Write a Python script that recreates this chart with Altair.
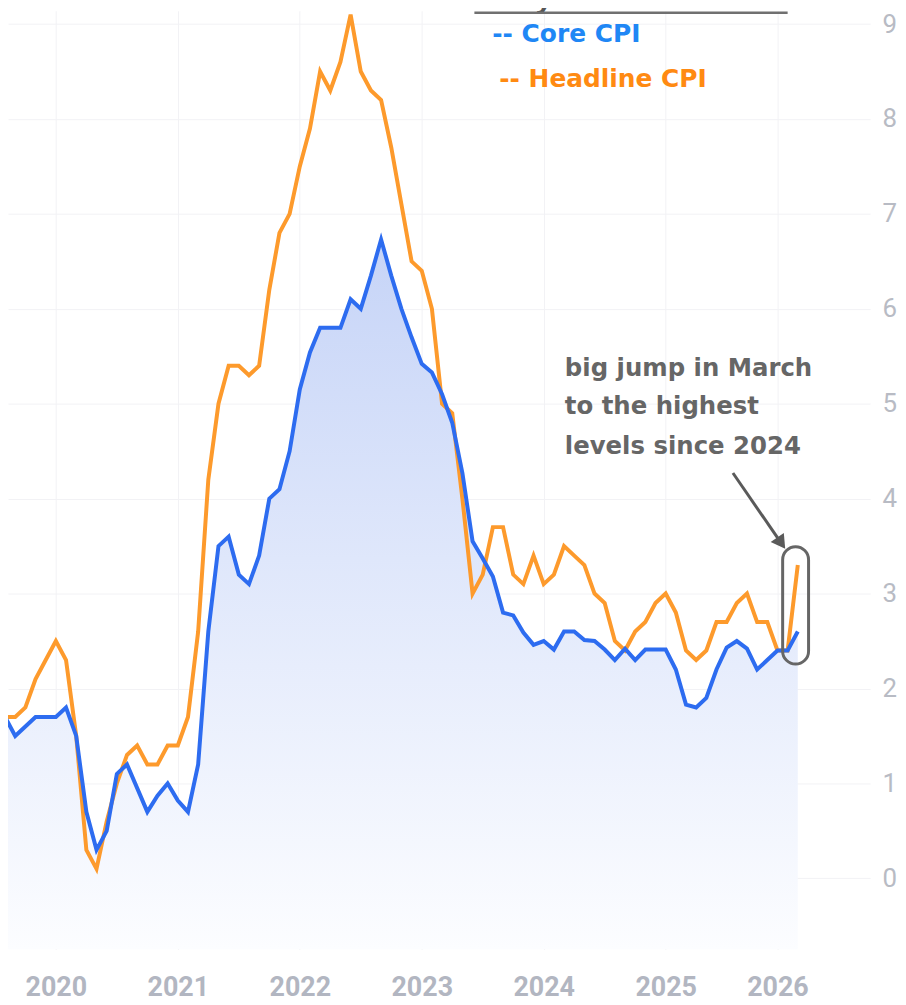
import altair as alt
import pandas as pd

# ---------------- data (monthly, Aug 2019 .. Mar 2026; Oct 2025 not published) ----------------
months = (
    ["2019-08", "2019-09", "2019-10", "2019-11", "2019-12"]
    + [f"2020-{m:02d}" for m in range(1, 13)]
    + [f"2021-{m:02d}" for m in range(1, 13)]
    + [f"2022-{m:02d}" for m in range(1, 13)]
    + [f"2023-{m:02d}" for m in range(1, 13)]
    + [f"2024-{m:02d}" for m in range(1, 13)]
    + ["2025-01", "2025-02", "2025-03", "2025-04", "2025-05", "2025-06",
       "2025-07", "2025-08", "2025-09", "2025-11", "2025-12"]
    + ["2026-01", "2026-02", "2026-03"]
)

headline = [
    1.7, 1.7, 1.8, 2.1, 2.3,
    2.5, 2.3, 1.5, 0.3, 0.1, 0.6, 1.0, 1.3, 1.4, 1.2, 1.2, 1.4,
    1.4, 1.7, 2.6, 4.2, 5.0, 5.4, 5.4, 5.3, 5.4, 6.2, 6.8, 7.0,
    7.5, 7.9, 8.5, 8.3, 8.6, 9.1, 8.5, 8.3, 8.2, 7.7, 7.1, 6.5,
    6.4, 6.0, 5.0, 4.9, 4.0, 3.0, 3.2, 3.7, 3.7, 3.2, 3.1, 3.4,
    3.1, 3.2, 3.5, 3.4, 3.3, 3.0, 2.9, 2.5, 2.4, 2.6, 2.7, 2.9,
    3.0, 2.8, 2.4, 2.3, 2.4, 2.7, 2.7, 2.9, 3.0, 2.7, 2.7,
    2.4, 2.4, 3.3,
]

core = [
    1.7, 1.5, 1.6, 1.7, 1.7,
    1.7, 1.8, 1.5, 0.7, 0.3, 0.5, 1.1, 1.2, 0.95, 0.7, 0.87, 1.0,
    0.82, 0.7, 1.2, 2.6, 3.5, 3.6, 3.2, 3.1, 3.4, 4.0, 4.1, 4.5,
    5.15, 5.54, 5.8, 5.8, 5.8, 6.1, 6.0, 6.35, 6.73, 6.35, 6.0, 5.7,
    5.42, 5.33, 5.1, 4.8, 4.27, 3.55, 3.37, 3.18, 2.8, 2.77, 2.59, 2.46,
    2.5, 2.41, 2.6, 2.6, 2.51, 2.5, 2.41, 2.3, 2.42, 2.3, 2.41, 2.41,
    2.41, 2.2, 1.83, 1.8, 1.9, 2.2, 2.43, 2.5, 2.42, 2.2, 2.3,
    2.4, 2.4, 2.6,
]

year_tick_idx = [5, 17, 29, 41, 53, 65, 76]
year_labels = ["2020", "2021", "2022", "2023", "2024", "2025", "2026"]
y_ticks = [0, 1, 2, 3, 4, 5, 6, 7, 8, 9]

legend_text = ["-- Core CPI", "-- Headline CPI"]
legend_colors = ["#1f87f5", "#ff8a12"]
legend_x = [47.94, 48.63]
legend_y = [8.89, 8.42]

note_lines = ["big jump in March", "to the highest", "levels since 2024"]
note_x = [55.08, 55.08, 55.08]
note_y = [5.37, 4.96, 4.54]

title_text = "Friday's Inflation Data:"

# ---------------- layout ----------------
W, H = 867, 944
XDOM = [0.29, 85.12]
YDOM = [-0.75, 9.14]

df = pd.DataFrame({
    "i": list(range(len(months))),
    "month": months,
    "headline": headline,
    "core": core,
})

label_expr = " : ".join(
    f"datum.value == {v} ? '{t}'" for v, t in zip(year_tick_idx, year_labels)
) + " : ''"

xscale = alt.Scale(domain=XDOM, nice=False, zero=False)
yscale = alt.Scale(domain=YDOM, nice=False, zero=False)

x_axis = alt.Axis(
    values=year_tick_idx, labelExpr=label_expr, title=None,
    domain=False, ticks=False, tickSize=0, labelPadding=25,
    labelBaseline="top", labelFont="Roboto",
    labelFontWeight="bold", labelFontSize=27, labelColor="#b2b6c1",
    grid=True, gridColor="#f2f2f5", gridWidth=1, labelFlush=False,
)
y_axis = alt.Axis(
    values=y_ticks, orient="right", title=None, domain=False, ticks=False,
    tickSize=0, labelPadding=12, labelAlign="left", labelBaseline="middle",
    labelFont="Roboto", labelFontSize=26,
    labelColor="#b8bbc4", grid=True, gridColor="#f2f2f5", gridWidth=1,
    labelFlush=False,
)


def X(field):
    return alt.X(field, scale=xscale, axis=x_axis, title=None)


def Y(field):
    return alt.Y(field, scale=yscale, axis=y_axis, title=None)


base = alt.Chart(df)

area = base.mark_area(
    clip=True,
    color=alt.Gradient(
        gradient="linear",
        stops=[
            alt.GradientStop(color="#c6d4f7", offset=0),
            alt.GradientStop(color="#dfe7fb", offset=0.45),
            alt.GradientStop(color="#fcfdff", offset=1),
        ],
        x1=0, x2=0, y1=0, y2=1,
    ),
).encode(
    x=X("i:Q"),
    y=Y("core:Q"),
    y2=alt.datum(YDOM[0]),
)

line_head = base.mark_line(clip=True, color="#fd9a2c", strokeWidth=4).encode(
    x=X("i:Q"), y=Y("headline:Q"),
)
line_core = base.mark_line(clip=True, color="#2d6cf0", strokeWidth=4).encode(
    x=X("i:Q"), y=Y("core:Q"),
)

# legend-like labels
leg_df = pd.DataFrame({"t": legend_text, "c": legend_colors, "x": legend_x, "y": legend_y})
legend = alt.Chart(leg_df).mark_text(
    align="left", baseline="middle", font="DejaVu Sans", fontWeight="bold", fontSize=25,
).encode(
    x=X("x:Q"), y=Y("y:Q"),
    text="t:N",
    color=alt.Color("c:N", scale=None),
)

# title (cropped at top in the reference) + underline
title_df = pd.DataFrame({"t": [title_text], "x": [61.6], "y": [9.17], "x1": [46.18], "x2": [77.0], "yr": [9.119]})
title = alt.Chart(title_df).mark_text(
    align="center", baseline="alphabetic", font="DejaVu Sans", fontWeight="bold",
    fontStyle="italic", fontSize=26, color="#555555",
).encode(
    x=X("x:Q"), y=Y("y:Q"), text="t:N",
)
underline = alt.Chart(title_df).mark_rule(color="#707070", strokeWidth=2.5).encode(
    x=X("x1:Q"), x2="x2:Q", y=Y("yr:Q"),
)

# annotation text
note_df = pd.DataFrame({"t": note_lines, "x": note_x, "y": note_y})
note = alt.Chart(note_df).mark_text(
    align="left", baseline="middle", font="DejaVu Sans", fontWeight="bold",
    fontSize=24.5, color="#666666",
).encode(
    x=X("x:Q"), y=Y("y:Q"), text="t:N",
)

# arrow
arrow_df = pd.DataFrame({"x": [71.62], "y": [4.27], "x2": [76.37], "y2": [3.531]})
arrow_shaft = alt.Chart(arrow_df).mark_rule(color="#5a5a5a", strokeWidth=3).encode(
    x=X("x:Q"), y=Y("y:Q"), x2="x2:Q", y2="y2:Q",
)
arrow_head = alt.Chart(arrow_df).mark_point(
    shape="triangle-up", filled=True, size=260, angle=145, color="#5a5a5a", opacity=1,
).encode(
    x=X("x2:Q"), y=Y("y2:Q"),
)

# capsule around last points
cap_df = pd.DataFrame({"x": [76.51], "x2": [79.06], "y": [3.493], "y2": [2.257]})
capsule = alt.Chart(cap_df).mark_rect(
    fill="transparent", stroke="#666666", strokeWidth=3, cornerRadius=13,
).encode(
    x=X("x:Q"), x2="x2:Q", y=Y("y:Q"), y2="y2:Q",
)

chart = alt.layer(
    area, line_head, line_core, legend, title, underline, note,
    arrow_shaft, arrow_head, capsule,
).properties(
    width=W, height=H,
    autosize=alt.AutoSizeParams(type="none"),
    padding={"left": 0, "top": 0, "right": 28, "bottom": 53},
    background="white",
).configure_view(strokeWidth=0)

chart.save("out.html", embed_options={"renderer": "svg", "actions": False})
